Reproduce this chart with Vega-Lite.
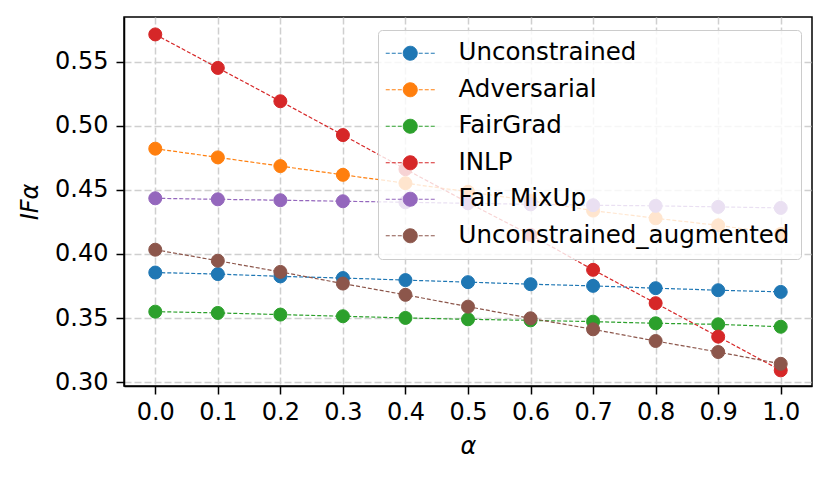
{
  "$schema": "https://vega.github.io/schema/vega-lite/v6.json",
  "autosize": {"type": "none"},
  "padding": {"left": 124, "top": 17, "right": 18, "bottom": 93},
  "width": 688,
  "height": 369,
  "config": {
    "font": "DejaVu Sans",
    "view": {"stroke": "black", "strokeWidth": 1.5},
    "axis": {
      "domainColor": "black", "domainWidth": 1.5,
      "tickColor": "black", "tickWidth": 1.5, "tickSize": 8,
      "labelFont": "DejaVu Sans", "labelFontSize": 24, "labelColor": "black",
      "titleFont": "DejaVu Sans", "titleFontSize": 24, "titleFontWeight": "normal",
      "titleFontStyle": "italic", "titleColor": "black",
      "gridColor": "#cfcfcf", "gridWidth": 1.5, "gridDash": [7, 3]
    }
  },
  "data": {
    "values": [
      {"method": "Unconstrained", "alpha": 0.0, "v": 0.3855},
      {"method": "Unconstrained", "alpha": 0.1, "v": 0.3843},
      {"method": "Unconstrained", "alpha": 0.2, "v": 0.3825},
      {"method": "Unconstrained", "alpha": 0.3, "v": 0.3812},
      {"method": "Unconstrained", "alpha": 0.4, "v": 0.3796},
      {"method": "Unconstrained", "alpha": 0.5, "v": 0.3780},
      {"method": "Unconstrained", "alpha": 0.6, "v": 0.3764},
      {"method": "Unconstrained", "alpha": 0.7, "v": 0.3751},
      {"method": "Unconstrained", "alpha": 0.8, "v": 0.3733},
      {"method": "Unconstrained", "alpha": 0.9, "v": 0.3717},
      {"method": "Unconstrained", "alpha": 1.0, "v": 0.3704},
      {"method": "Adversarial", "alpha": 0.0, "v": 0.4821},
      {"method": "Adversarial", "alpha": 0.1, "v": 0.4753},
      {"method": "Adversarial", "alpha": 0.2, "v": 0.4685},
      {"method": "Adversarial", "alpha": 0.3, "v": 0.4617},
      {"method": "Adversarial", "alpha": 0.4, "v": 0.4552},
      {"method": "Adversarial", "alpha": 0.5, "v": 0.4485},
      {"method": "Adversarial", "alpha": 0.6, "v": 0.4415},
      {"method": "Adversarial", "alpha": 0.7, "v": 0.4338},
      {"method": "Adversarial", "alpha": 0.8, "v": 0.4278},
      {"method": "Adversarial", "alpha": 0.9, "v": 0.4223},
      {"method": "Adversarial", "alpha": 1.0, "v": 0.4156},
      {"method": "FairGrad", "alpha": 0.0, "v": 0.3550},
      {"method": "FairGrad", "alpha": 0.1, "v": 0.3540},
      {"method": "FairGrad", "alpha": 0.2, "v": 0.3527},
      {"method": "FairGrad", "alpha": 0.3, "v": 0.3514},
      {"method": "FairGrad", "alpha": 0.4, "v": 0.3501},
      {"method": "FairGrad", "alpha": 0.5, "v": 0.3490},
      {"method": "FairGrad", "alpha": 0.6, "v": 0.3482},
      {"method": "FairGrad", "alpha": 0.7, "v": 0.3472},
      {"method": "FairGrad", "alpha": 0.8, "v": 0.3459},
      {"method": "FairGrad", "alpha": 0.9, "v": 0.3451},
      {"method": "FairGrad", "alpha": 1.0, "v": 0.3432},
      {"method": "INLP", "alpha": 0.0, "v": 0.5712},
      {"method": "INLP", "alpha": 0.1, "v": 0.5451},
      {"method": "INLP", "alpha": 0.2, "v": 0.5191},
      {"method": "INLP", "alpha": 0.3, "v": 0.4927},
      {"method": "INLP", "alpha": 0.4, "v": 0.4661},
      {"method": "INLP", "alpha": 0.5, "v": 0.4400},
      {"method": "INLP", "alpha": 0.6, "v": 0.4148},
      {"method": "INLP", "alpha": 0.7, "v": 0.3876},
      {"method": "INLP", "alpha": 0.8, "v": 0.3616},
      {"method": "INLP", "alpha": 0.9, "v": 0.3355},
      {"method": "INLP", "alpha": 1.0, "v": 0.3092},
      {"method": "Fair MixUp", "alpha": 0.0, "v": 0.4434},
      {"method": "Fair MixUp", "alpha": 0.1, "v": 0.4426},
      {"method": "Fair MixUp", "alpha": 0.2, "v": 0.4419},
      {"method": "Fair MixUp", "alpha": 0.3, "v": 0.4411},
      {"method": "Fair MixUp", "alpha": 0.4, "v": 0.4403},
      {"method": "Fair MixUp", "alpha": 0.5, "v": 0.4395},
      {"method": "Fair MixUp", "alpha": 0.6, "v": 0.4387},
      {"method": "Fair MixUp", "alpha": 0.7, "v": 0.4380},
      {"method": "Fair MixUp", "alpha": 0.8, "v": 0.4375},
      {"method": "Fair MixUp", "alpha": 0.9, "v": 0.4367},
      {"method": "Fair MixUp", "alpha": 1.0, "v": 0.4359},
      {"method": "Unconstrained_augmented", "alpha": 0.0, "v": 0.4033},
      {"method": "Unconstrained_augmented", "alpha": 0.1, "v": 0.3947},
      {"method": "Unconstrained_augmented", "alpha": 0.2, "v": 0.3860},
      {"method": "Unconstrained_augmented", "alpha": 0.3, "v": 0.3769},
      {"method": "Unconstrained_augmented", "alpha": 0.4, "v": 0.3681},
      {"method": "Unconstrained_augmented", "alpha": 0.5, "v": 0.3589},
      {"method": "Unconstrained_augmented", "alpha": 0.6, "v": 0.3498},
      {"method": "Unconstrained_augmented", "alpha": 0.7, "v": 0.3412},
      {"method": "Unconstrained_augmented", "alpha": 0.8, "v": 0.3321},
      {"method": "Unconstrained_augmented", "alpha": 0.9, "v": 0.3235},
      {"method": "Unconstrained_augmented", "alpha": 1.0, "v": 0.3143}
    ]
  },
  "encoding": {
    "x": {
      "field": "alpha", "type": "quantitative", "title": "α",
      "scale": {"domain": [-0.05, 1.05], "nice": false, "zero": false},
      "axis": {"values": [0, 0.1, 0.2, 0.3, 0.4, 0.5, 0.6, 0.7, 0.8, 0.9, 1.0], "format": ".1f", "labelPadding": 6, "titlePadding": 10}
    },
    "y": {
      "field": "v", "type": "quantitative", "title": "IFα",
      "scale": {"domain": [0.297, 0.5848], "nice": false, "zero": false},
      "axis": {"values": [0.30, 0.35, 0.40, 0.45, 0.50, 0.55], "format": ".2f", "labelPadding": 8, "titlePadding": 12}
    },
    "stroke": {
      "field": "method", "type": "nominal",
      "scale": {
        "domain": ["Unconstrained", "Adversarial", "FairGrad", "INLP", "Fair MixUp", "Unconstrained_augmented"],
        "range": ["#1f77b4", "#ff7f0e", "#2ca02c", "#d62728", "#9467bd", "#8c564b"]
      },
      "legend": {
        "orient": "none", "legendX": 254, "legendY": 13, "title": null,
        "symbolType": "M-3.5,0L-2.93,0M-2.64,0L-2.07,0M-1.78,0L-1.21,0M1.21,0L1.78,0M2.07,0L2.64,0M2.93,0L3.5,0M1,0A1,1,0,1,1,-1,0A1,1,0,1,1,1,0Z",
        "symbolSize": 196, "symbolStrokeWidth": 1, "symbolOffset": 9, "symbolDash": [],
        "labelOffset": 36, "labelLimit": 500, "labelFontSize": 24.5, "labelFont": "DejaVu Sans", "labelColor": "black",
        "padding": 11, "rowPadding": 11.5,
        "fillColor": "rgba(255,255,255,0.8)", "strokeColor": "#cccccc", "cornerRadius": 4
      }
    }
  },
  "layer": [
    {
      "mark": {"type": "line", "strokeWidth": 1.2, "strokeDash": [4, 2]}
    },
    {
      "mark": {"type": "point", "filled": true, "size": 169, "strokeWidth": 1, "opacity": 1},
      "encoding": {
        "fill": {
          "field": "method", "type": "nominal",
          "scale": {
            "domain": ["Unconstrained", "Adversarial", "FairGrad", "INLP", "Fair MixUp", "Unconstrained_augmented"],
            "range": ["#1f77b4", "#ff7f0e", "#2ca02c", "#d62728", "#9467bd", "#8c564b"]
          },
          "legend": {
            "orient": "none", "legendX": 254, "legendY": 13, "title": null,
            "symbolType": "M-3.5,0L-2.93,0M-2.64,0L-2.07,0M-1.78,0L-1.21,0M1.21,0L1.78,0M2.07,0L2.64,0M2.93,0L3.5,0M1,0A1,1,0,1,1,-1,0A1,1,0,1,1,1,0Z",
            "symbolSize": 196, "symbolStrokeWidth": 1, "symbolOffset": 9, "symbolDash": [],
            "labelOffset": 36, "labelLimit": 500, "labelFontSize": 24.5, "labelFont": "DejaVu Sans", "labelColor": "black",
            "padding": 11, "rowPadding": 11.5,
            "fillColor": "rgba(255,255,255,0.8)", "strokeColor": "#cccccc", "cornerRadius": 4
          }
        }
      }
    }
  ]
}
